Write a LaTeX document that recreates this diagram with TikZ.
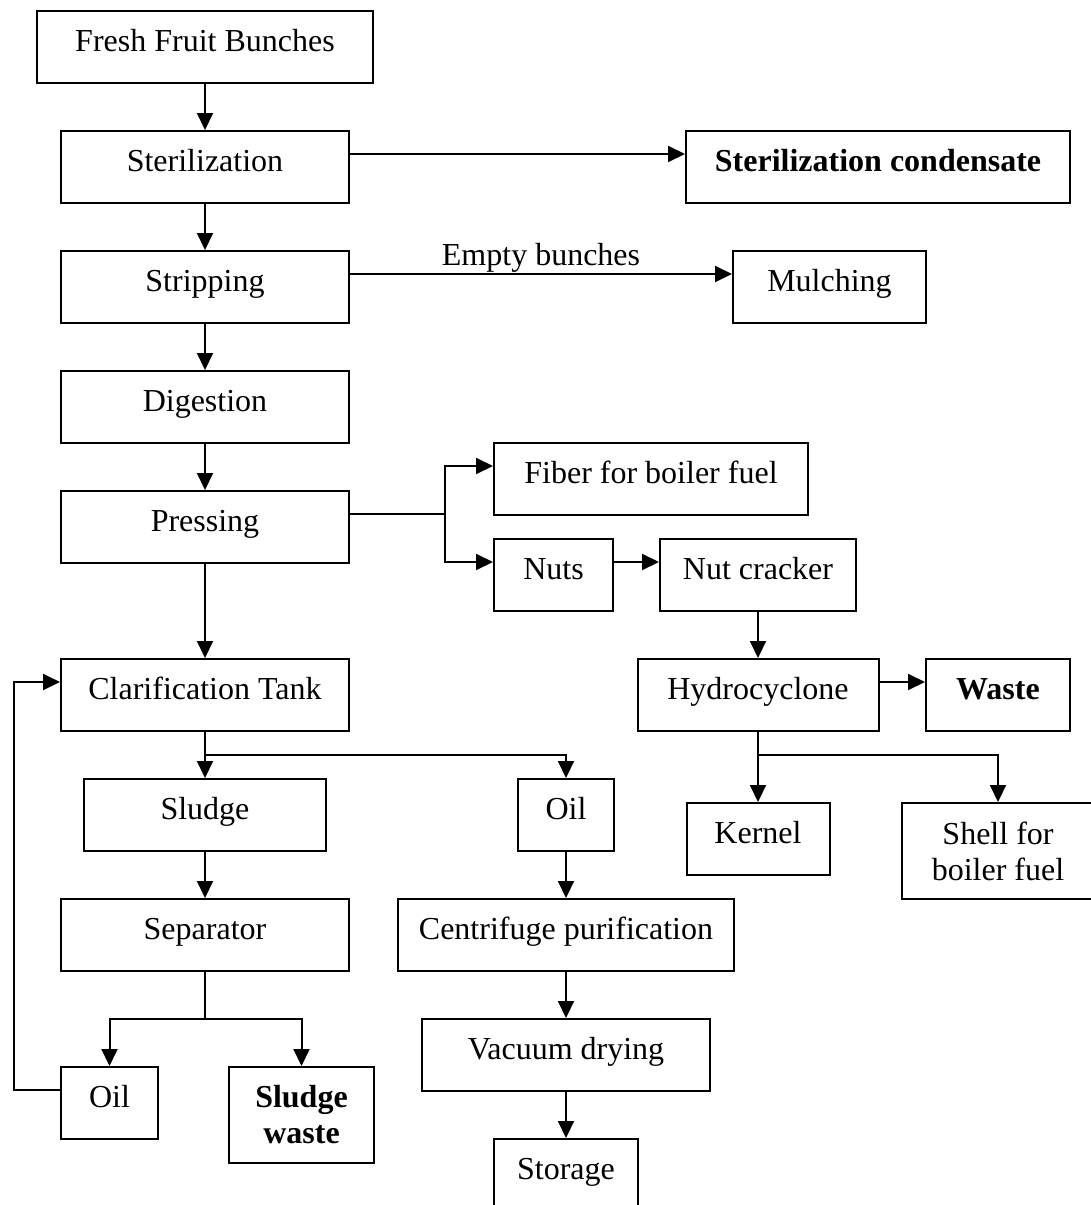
\documentclass[tikz,border=0pt]{standalone}
\usepackage{fontspec}
\setmainfont{Liberation Serif}
\usetikzlibrary{arrows.meta}

\begin{document}
\begin{tikzpicture}[x=0.5pt, y=-0.5pt, font=\fontsize{16}{18}\selectfont,
	blk/.style={draw, line width=1pt, minimum height=36pt, inner sep=0pt, text height=11.2pt, text depth=7.2pt},
	blk2/.style={draw, line width=1pt, minimum height=48pt, inner sep=0pt, align=center},
	strong/.style={font=\fontsize{16}{18}\selectfont\bfseries},
	arr/.style={line width=1pt, -{Triangle[length=8.5pt,width=8pt]}},
	ln/.style={line width=1pt}]
			\useasboundingbox (0,0) rectangle (1091,1205);
			\clip (0,0) rectangle (1091,1205);
			\node[blk, minimum width=168pt] (ffb) at (205,47) {Fresh Fruit Bunches};
			\node[blk, minimum width=144pt] (ster) at (205,167) {Sterilization};
			\node[blk, strong, minimum width=192pt] (cond) at (878,167) {Sterilization condensate};
			\node[blk, minimum width=144pt] (strip) at (205,287) {Stripping};
			\node[blk, minimum width=96.5pt] (mulch) at (829.5,287) {Mulching};
			\node[blk, minimum width=144pt] (digest) at (205,407) {Digestion};
			\node[blk, minimum width=144pt] (press) at (205,527) {Pressing};
			\node[blk, minimum width=157pt] (fiber) at (651,479) {Fiber for boiler fuel};
			\node[blk, minimum width=59.5pt] (nuts) at (553.5,575) {Nuts};
			\node[blk, minimum width=98pt] (cracker) at (758,575) {Nut cracker};
			\node[blk, minimum width=120.5pt] (hydro) at (758,695) {Hydrocyclone};
			\node[blk, strong, minimum width=72pt] (waste) at (998,695) {Waste};
			\node[blk, minimum width=71.5pt] (kernel) at (758,839) {Kernel};
			\node[blk2, minimum width=96pt] (shell) at (998,851) {Shell for\\boiler fuel};
			\node[blk, minimum width=144pt] (clar) at (205,695) {Clarification Tank};
			\node[blk, minimum width=121pt] (sludge) at (205,815) {Sludge};
			\node[blk, minimum width=48pt] (oilA) at (566,815) {Oil};
			\node[blk, minimum width=144pt] (sep) at (205,935) {Separator};
			\node[blk, minimum width=168pt] (centri) at (566,935) {Centrifuge purification};
			\node[blk, minimum width=144pt] (vacuum) at (566,1055) {Vacuum drying};
			\node[blk, minimum width=48.5pt] (oilB) at (109.5,1103) {Oil};
			\node[blk2, strong, minimum width=72.5pt] (swaste) at (301.5,1115) {Sludge\\waste};
			\node[blk, minimum width=72pt] (storage) at (566,1175) {Storage};
			\coordinate (pj) at (445,514);
			\coordinate (cj) at (205,755);
			\coordinate (hj) at (758,755);
			\coordinate (sj) at (205,1019);
			\coordinate (fbl) at (14,1090);
			\coordinate (fbu) at (14,682);
			\foreach \a/\b in {ffb/ster, ster/strip, strip/digest, digest/press, press/clar, clar/sludge, sludge/sep, oilA/centri, centri/vacuum, vacuum/storage, cracker/hydro, hydro/kernel} {
				\draw[arr] (\a.south) -- (\b.north);	}
			\foreach \a/\b in {ster/cond, nuts/cracker, hydro/waste} {
				\draw[arr] ([yshift=6.5pt]\a.east) -- ([yshift=6.5pt]\b.west);	}
			\draw[arr] ([yshift=6.5pt]strip.east) -- node[above, inner sep=0.5pt] (eb) {Empty bunches} ([yshift=6.5pt]mulch.west);
			\draw[ln] ([yshift=6.5pt]press.east) -- (pj);
			\draw[arr] (pj) |- ([yshift=6.5pt]fiber.west);
			\draw[arr] (pj) |- ([yshift=6.5pt]nuts.west);
			\draw[arr] (cj) -| (oilA.north);
			\draw[arr] (hj) -| (shell.north);
			\draw[ln] (sep.south) -- (sj);
			\draw[arr] (sj) -| (oilB.north);
			\draw[arr] (sj) -| (swaste.north);
			\draw[arr] ([yshift=6.5pt]oilB.west) -- (fbl) -- (fbu) -- ([yshift=6.5pt]clar.west);
		\end{tikzpicture}
\end{document}
